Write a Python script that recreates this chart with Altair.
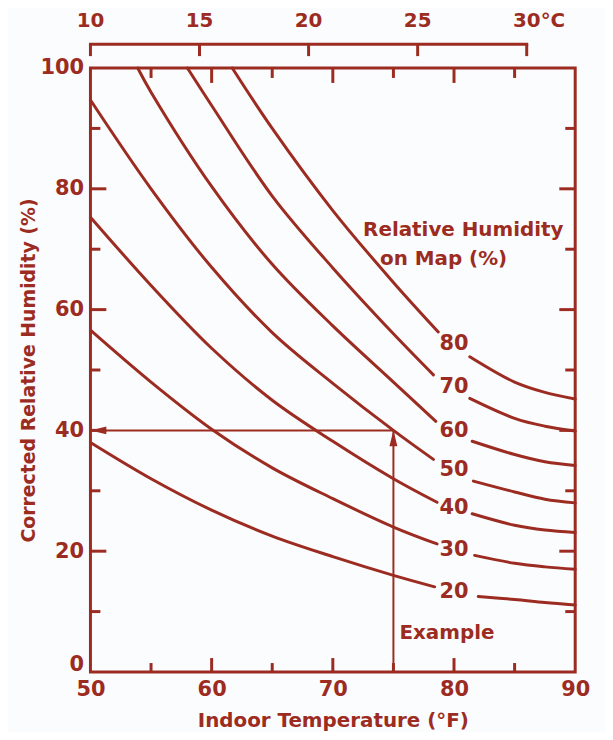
import altair as alt
import pandas as pd

COLOR = "#9c2c22"
BG = "#fbfcfd"
FONT = "DejaVu Sans"

# ---------------- data ----------------
curve_ids = [20, 30, 40, 50, 60, 70, 80]

# left piece (before the label gap) and right piece (after the gap)
c20_left_T = [50, 55, 60, 65, 70, 75, 78.4]
c20_left_RH = [38.0, 32.0, 26.8, 22.5, 19.1, 16.0, 14.1]
c20_right_T = [82.0, 85, 87.5, 90]
c20_right_RH = [12.5, 12.0, 11.5, 11.1]

c30_left_T = [50, 55, 60, 65, 70, 75, 78.6]
c30_left_RH = [56.6, 48.0, 40.2, 33.8, 28.7, 24.0, 21.2]
c30_right_T = [81.7, 85, 87.5, 90]
c30_right_RH = [19.3, 18.0, 17.4, 17.0]

c40_left_T = [50, 55, 60, 65, 70, 75, 78.6]
c40_left_RH = [75.3, 64.0, 53.6, 45.0, 38.2, 32.0, 28.1]
c40_right_T = [81.5, 85, 87.5, 90]
c40_right_RH = [26.2, 24.3, 23.5, 23.1]

c50_left_T = [50, 55, 60, 65, 70, 75, 78.3]
c50_left_RH = [94.7, 80.0, 67.0, 56.2, 47.8, 40.0, 35.2]
c50_right_T = [81.6, 85, 87.5, 90]
c50_right_RH = [31.6, 29.8, 28.6, 28.0]

c60_left_T = [53.9, 55, 60, 65, 70, 75, 78.5]
c60_left_RH = [100, 96.0, 80.4, 67.5, 57.3, 48.0, 41.5]
c60_right_T = [81.5, 85, 87.5, 90]
c60_right_RH = [38.2, 36.0, 34.8, 34.2]

c70_left_T = [58.0, 60, 65, 70, 75, 78.3]
c70_left_RH = [100, 93.8, 78.8, 66.9, 56.0, 49.2]
c70_right_T = [81.3, 85, 87.5, 90]
c70_right_RH = [45.3, 42.0, 40.7, 39.9]

c80_left_T = [61.7, 65, 70, 75, 78.7]
c80_left_RH = [100, 90.0, 76.4, 64.5, 56.3]
c80_right_T = [81.3, 85, 87.5, 90]
c80_right_RH = [52.2, 48.0, 46.3, 45.2]

x_labels = [50, 60, 70, 80, 90]
y_labels = [0, 20, 40, 60, 80, 100]
x_major_ticks = [60, 70, 80]
x_minor_ticks = [55, 65, 75, 85]
y_major_ticks = [20, 40, 60, 80]
y_minor_ticks = [10, 30, 50, 70, 90]
celsius_ticks = [10, 15, 20, 25, 30]

label_T = 80
example_T = 75
example_RH = 40
example_text_T = 75.5
example_text_RH = 6.5
legend_lines = ["Relative Humidity", "on Map (%)"]
legend_T = [72.5, 73.9]
legend_RH = [73.2, 68.4]

W, H = 488, 608

# ---------------- tables ----------------
pieces = {
    20: (c20_left_T, c20_left_RH, c20_right_T, c20_right_RH),
    30: (c30_left_T, c30_left_RH, c30_right_T, c30_right_RH),
    40: (c40_left_T, c40_left_RH, c40_right_T, c40_right_RH),
    50: (c50_left_T, c50_left_RH, c50_right_T, c50_right_RH),
    60: (c60_left_T, c60_left_RH, c60_right_T, c60_right_RH),
    70: (c70_left_T, c70_left_RH, c70_right_T, c70_right_RH),
    80: (c80_left_T, c80_left_RH, c80_right_T, c80_right_RH),
}
rows = []
lab_rows = []
for cid in curve_ids:
    lt, lr, rt, rr = pieces[cid]
    for t, r in zip(lt, lr):
        rows.append({"seg": f"{cid}a", "T": t, "RH": r})
    for t, r in zip(rt, rr):
        rows.append({"seg": f"{cid}b", "T": t, "RH": r})
    lab_rows.append({"label": str(cid), "T": label_T, "RH": (lr[-1] + rr[0]) / 2})
curves_df = pd.DataFrame(rows)
labels_df = pd.DataFrame(lab_rows)

xscale = alt.Scale(domain=[50, 90], nice=False, zero=False)
yscale = alt.Scale(domain=[0, 100], nice=False)

x_axis = alt.Axis(values=x_labels, ticks=False, domain=False, grid=False, labelFlush=False,
                  labelFontSize=21, labelColor=COLOR, labelFont=FONT, labelFontWeight="bold",
                  labelPadding=7,
                  title="Indoor Temperature (°F)", titleFontSize=20, titleFont=FONT,
                  titleFontWeight="bold", titleColor=COLOR, titlePadding=11)
y_axis = alt.Axis(values=y_labels, ticks=False, domain=False, grid=False, labelFlush=False,
                  labelFontSize=21, labelColor=COLOR, labelFont=FONT, labelFontWeight="bold",
                  labelPadding=7,
                  labelOffset={"condition": {"test": "datum.value == 0", "value": -7}, "value": 0},
                  title="Corrected Relative Humidity (%)", titleFontSize=19, titleFont=FONT,
                  titleFontWeight="bold", titleColor=COLOR, titlePadding=1)

lines = alt.Chart(curves_df).mark_line(
    color=COLOR, strokeWidth=3, interpolate="catmull-rom", strokeCap="round"
).encode(
    x=alt.X("T:Q", scale=xscale, axis=x_axis),
    y=alt.Y("RH:Q", scale=yscale, axis=y_axis),
    detail="seg:N",
)

def xticks(vals, y0, y1):
    return alt.Chart(pd.DataFrame({"T": vals})).mark_rule(
        color=COLOR, strokeWidth=3, strokeCap="butt"
    ).encode(x=alt.X("T:Q", scale=xscale), y=alt.value(y0), y2=alt.value(y1))

def yticks(vals, x0, x1):
    return alt.Chart(pd.DataFrame({"RH": vals})).mark_rule(
        color=COLOR, strokeWidth=3, strokeCap="butt"
    ).encode(y=alt.Y("RH:Q", scale=yscale), x=alt.value(x0), x2=alt.value(x1))

tick_layers = [
    xticks(x_major_ticks, H, H - 14), xticks(x_minor_ticks, H, H - 9),
    xticks(x_major_ticks, 0, 15), xticks(x_minor_ticks, 0, 10),
    yticks(y_major_ticks, 0, 16), yticks(y_minor_ticks, 0, 10),
    yticks(y_major_ticks, W, W - 16), yticks(y_minor_ticks, W, W - 10),
]

# Celsius scale on top
cdf = pd.DataFrame({"C": celsius_ticks})
cbase = alt.Chart(cdf).transform_calculate(F="datum.C * 9 / 5 + 32")
c_ticks = cbase.mark_rule(color=COLOR, strokeWidth=3, strokeCap="butt").encode(
    x=alt.X("F:Q", scale=xscale), y=alt.value(-24), y2=alt.value(-12))
c_labels = cbase.mark_text(color=COLOR, font=FONT, fontSize=20, fontWeight="bold",
                           baseline="middle").encode(
    x=alt.X("F:Q", scale=xscale), y=alt.value(-47), text=alt.Text("C:N"))
cbar_df = pd.DataFrame({"C0": [min(celsius_ticks)], "C1": [max(celsius_ticks)]})
c_bar = alt.Chart(cbar_df).transform_calculate(
    F0="datum.C0 * 9 / 5 + 32", F1="datum.C1 * 9 / 5 + 32"
).mark_rule(color=COLOR, strokeWidth=3, strokeCap="square").encode(
    x=alt.X("F0:Q", scale=xscale), x2="F1:Q", y=alt.value(-24))
c_unit = alt.Chart(pd.DataFrame({"C": [max(celsius_ticks)], "t": ["°C"]})).transform_calculate(
    F="datum.C * 9 / 5 + 32"
).mark_text(color=COLOR, font=FONT, fontSize=20, fontWeight="bold", baseline="middle",
            align="left", dx=14).encode(
    x=alt.X("F:Q", scale=xscale), y=alt.value(-47), text="t:N")

curve_labels = alt.Chart(labels_df).mark_text(
    color=COLOR, font=FONT, fontSize=21, fontWeight="bold", baseline="middle"
).encode(x=alt.X("T:Q", scale=xscale), y=alt.Y("RH:Q", scale=yscale), text="label:N")

legend_df = pd.DataFrame({"text": legend_lines, "T": legend_T, "RH": legend_RH})
legend_title = alt.Chart(legend_df).mark_text(
    color=COLOR, font=FONT, fontSize=20, fontWeight="bold", align="left", baseline="middle"
).encode(x=alt.X("T:Q", scale=xscale), y=alt.Y("RH:Q", scale=yscale), text="text:N")

ex_df = pd.DataFrame({"T": [example_T], "RH": [example_RH], "T0": [50], "R0": [0]})
ex_v = alt.Chart(ex_df).mark_rule(color=COLOR, strokeWidth=2).encode(
    x=alt.X("T:Q", scale=xscale), y=alt.Y("R0:Q", scale=yscale), y2="RH:Q")
ex_h = alt.Chart(ex_df).mark_rule(color=COLOR, strokeWidth=2).encode(
    x=alt.X("T0:Q", scale=xscale), x2="T:Q", y=alt.Y("RH:Q", scale=yscale))
ex_head_up = alt.Chart(ex_df).mark_point(
    shape="M0,0 L-1,4 L1,4 Z", filled=True, color=COLOR, opacity=1, size=64
).encode(x=alt.X("T:Q", scale=xscale), y=alt.Y("RH:Q", scale=yscale))
ex_head_left = alt.Chart(ex_df).mark_point(
    shape="M0,0 L4,-1 L4,1 Z", filled=True, color=COLOR, opacity=1, size=64
).encode(x=alt.X("T0:Q", scale=xscale), y=alt.Y("RH:Q", scale=yscale))
ex_text = alt.Chart(pd.DataFrame({"T": [example_text_T], "RH": [example_text_RH], "t": ["Example"]})).mark_text(
    color=COLOR, font=FONT, fontSize=20, fontWeight="bold", align="left", baseline="middle"
).encode(x=alt.X("T:Q", scale=xscale), y=alt.Y("RH:Q", scale=yscale), text="t:N")

chart = alt.layer(
    lines, *tick_layers, c_bar, c_ticks, c_labels, c_unit,
    curve_labels, legend_title, ex_v, ex_h, ex_head_up, ex_head_left, ex_text
).properties(
    width=W, height=H,
    autosize=alt.AutoSizeParams(type="none"),
    padding={"left": 83, "top": 58, "right": 30, "bottom": 58},
    background=BG,
).configure_view(stroke=COLOR, strokeWidth=3)

chart.save("out.html", embed_options={"renderer": "svg", "actions": False})
